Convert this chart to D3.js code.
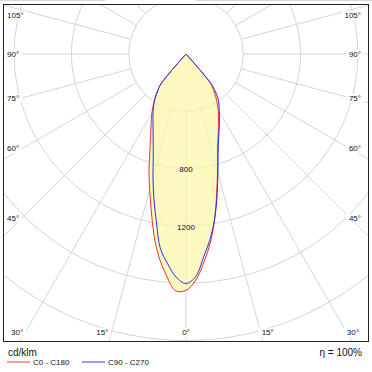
<!DOCTYPE html>
<html>
<head>
<meta charset="utf-8">
<script src="https://cdn.jsdelivr.net/npm/d3@7.9.0/dist/d3.min.js"></script>
<style>
  body { margin: 0; background: #fff; }
  svg { display: block; font-family: "Liberation Sans", Arial, sans-serif; }
</style>
</head>
<body>
<svg width="372" height="372"></svg>
<script>
// gamma angles, degrees from nadir
const gammas = [0, 2.5, 5, 7.5, 10, 12.5, 15, 17.5, 20, 22.5, 25, 27.5, 30, 32.5, 35, 37.5, 40, 42.5, 45, 90, 135, 180];
// intensities in cd/klm
const c0   = [1647, 1580, 1455, 1320, 1160, 990, 850, 730, 650, 590, 535, 490, 450, 405, 360, 315, 265, 0, 0, 0, 0, 0];
const c180 = [1650, 1655, 1555, 1435, 1285, 1120, 980, 860, 740, 650, 580, 525, 477, 425, 376, 330, 270, 0, 0, 0, 0, 0];
const c90  = [1602, 1555, 1420, 1300, 1160, 1005, 860, 745, 660, 600, 550, 505, 465, 430, 395, 345, 285, 0, 0, 0, 0, 0];
const c270 = [1602, 1560, 1470, 1370, 1190, 1035, 890, 760, 670, 600, 545, 500, 460, 420, 375, 325, 270, 0, 0, 0, 0, 0];

const rings = [400, 800, 1200, 1600, 2000];
const ringLabels = [800, 1200];
const spokes = [0, 15, 30, 45, 60, 75, 90, 105, 120, 135, 150, 165, 180];
const angleLabels = [0, 15, 30, 45, 60, 75, 90, 105];
const seriesNames = ['C0 - C180', 'C90 - C270'];
const unitText = 'cd/klm';
const etaText = 'η = 100%';

const svg = d3.select('svg');
const frame = { x0: 3.5, y0: 4.5, x1: 368.5, y1: 341.5 };
const cx = 186, cy = 54;
const rad = d3.scaleLinear().domain([0, 2000]).range([0, 286.5]);
const toRad = (g) => g * Math.PI / 180;

// thin rule at the very top of the image
svg.append('line').attr('x1', 0).attr('x2', 105).attr('y1', 0.5).attr('y2', 0.5).attr('stroke', '#d6d6d6');
svg.append('line').attr('x1', 196).attr('x2', 372).attr('y1', 0.5).attr('y2', 0.5).attr('stroke', '#d6d6d6');

svg.append('clipPath').attr('id', 'plotclip')
    .append('rect')
    .attr('x', frame.x0).attr('y', frame.y0)
    .attr('width', frame.x1 - frame.x0).attr('height', frame.y1 - frame.y0);

const plot = svg.append('g').attr('clip-path', 'url(#plotclip)');
const polar = plot.append('g').attr('transform', `translate(${cx},${cy})`);

// grid
polar.selectAll('circle.ring')
    .data(rings)
    .join('circle')
    .attr('class', 'ring')
    .attr('r', (d) => rad(d))
    .attr('fill', 'none')
    .attr('stroke', '#d4d4d4');

const spokeAngles = [];
spokes.forEach((g) => {
    spokeAngles.push(Math.PI - toRad(g));
    if (g > 0 && g < 180) spokeAngles.push(Math.PI + toRad(g));
});
polar.selectAll('line.spoke')
    .data(spokeAngles)
    .join('line')
    .attr('class', 'spoke')
    .attr('x1', (a) => rad(400) * Math.sin(a))
    .attr('y1', (a) => -rad(400) * Math.cos(a))
    .attr('x2', (a) => rad(2600) * Math.sin(a))
    .attr('y2', (a) => -rad(2600) * Math.cos(a))
    .attr('stroke', '#d4d4d4');

// curves: left half from 180 down to 0, then right half back up
function outline(left, right) {
    const pts = [];
    for (let i = gammas.length - 1; i >= 0; i--) pts.push([Math.PI + toRad(gammas[i]), left[i]]);
    for (let i = 1; i < gammas.length; i++) pts.push([Math.PI - toRad(gammas[i]), right[i]]);
    return pts;
}
const line = d3.lineRadial()
    .angle((d) => d[0])
    .radius((d) => rad(d[1]))
    .curve(d3.curveCatmullRomClosed.alpha(0.5));

const redPts = outline(c180, c0);
const bluePts = outline(c270, c90);

polar.append('path')
    .attr('d', line(redPts) + line(bluePts))
    .attr('fill', '#f9f6a8')
    .attr('fill-opacity', 0.72)
    .attr('stroke', 'none');

polar.append('path')
    .attr('d', line(redPts))
    .attr('fill', 'none')
    .attr('stroke', '#ff2a2a')
    .attr('stroke-width', 1);

polar.append('path')
    .attr('d', line(bluePts))
    .attr('fill', 'none')
    .attr('stroke', '#2a2aff')
    .attr('stroke-width', 1);

// ring values on the nadir axis
polar.selectAll('text.ringlab')
    .data(ringLabels)
    .join('text')
    .attr('class', 'ringlab')
    .attr('x', 0)
    .attr('y', (d) => rad(d) + 1)
    .attr('dy', '0.35em')
    .attr('text-anchor', 'middle')
    .attr('font-size', 8)
    .attr('fill', '#111')
    .attr('paint-order', 'stroke')
    .attr('stroke', '#f9f6c6')
    .attr('stroke-width', 3)
    .text((d) => d);

// angle labels where the spokes meet the frame
const labelG = plot.append('g');
const angleItems = [];
angleLabels.forEach((g) => {
    const sides = g === 0 ? [0] : [-1, 1];
    sides.forEach((s) => {
        const t = toRad(g);
        let x, y, anchor;
        if (g <= 30) {
            y = 332;
            x = cx + s * (329 - cy) * Math.tan(t);
            if (s < 0) { x -= 4; anchor = 'end'; }
            else if (s > 0) { x += 2; anchor = 'start'; }
            else anchor = 'middle';
        } else {
            const dx = s < 0 ? cx - 22 : 350 - cx;
            y = Math.max(15, cy + dx / Math.tan(t));
            x = s < 0 ? 7 : 361;
            anchor = s < 0 ? 'start' : 'end';
        }
        angleItems.push({ g, x, y, anchor });
    });
});
const angleTexts = labelG.selectAll('text')
    .data(angleItems)
    .join('text')
    .attr('x', (d) => d.x)
    .attr('y', (d) => d.y)
    .attr('dy', '0.35em')
    .attr('text-anchor', (d) => d.anchor)
    .attr('font-size', 8)
    .attr('fill', '#111')
    .text((d) => d.g + '°');
angleTexts.each(function () {
    const b = this.getBBox();
    labelG.insert('rect', 'text')
        .attr('x', b.x - 3).attr('y', b.y)
        .attr('width', b.width + 6).attr('height', b.height)
        .attr('fill', '#fff');
});

// frame
svg.append('rect')
    .attr('x', frame.x0).attr('y', frame.y0)
    .attr('width', frame.x1 - frame.x0).attr('height', frame.y1 - frame.y0)
    .attr('fill', 'none')
    .attr('stroke', '#222');

// footer
svg.append('text')
    .attr('x', 8).attr('y', 352).attr('dy', '0.35em')
    .attr('font-size', 10).attr('fill', '#111')
    .text(unitText);
svg.append('text')
    .attr('x', 362).attr('y', 352).attr('dy', '0.35em')
    .attr('text-anchor', 'end')
    .attr('font-size', 10).attr('fill', '#111')
    .text(etaText);

const legendColors = ['#ff9c9c', '#9c9cff'];
const legendX = [7, 82];
seriesNames.forEach((name, i) => {
    svg.append('line')
        .attr('x1', legendX[i]).attr('x2', legendX[i] + 23)
        .attr('y1', 362).attr('y2', 362)
        .attr('stroke', legendColors[i])
        .attr('stroke-width', 2);
    svg.append('text')
        .attr('x', legendX[i] + 26).attr('y', 362).attr('dy', '0.35em')
        .attr('font-size', 8).attr('fill', '#111')
        .text(name);
});
</script>
</body>
</html>
